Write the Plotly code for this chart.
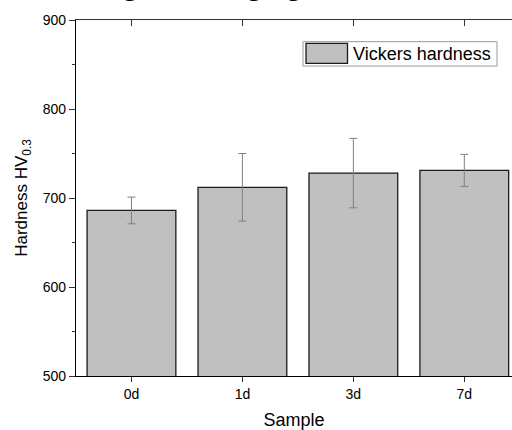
import plotly.graph_objects as go

categories = ["0d", "1d", "3d", "7d"]
hardness = [686, 712, 728, 731]
hardness_err = [15, 38, 39, 18]
y_ticks = [500, 600, 700, 800, 900]

FONT = "Liberation Sans, Arial, sans-serif"
W, H = 512, 430
ML, MR, MT, MB = 76, 0, 20, 54
PW, PH = W - ML - MR, H - MT - MB

def px(x):
    return (x - ML) / PW

def py(y):
    return (H - MB - y) / PH

fig = go.Figure()
fig.add_trace(go.Bar(
    x=categories, y=hardness, width=0.8,
    marker=dict(color="#C0C0C0", line=dict(color="#1a1a1a", width=1.3)),
    error_y=dict(type="data", array=hardness_err, color="#808080", thickness=1, width=4),
    showlegend=False, name="Vickers hardness",
))
# invisible trace for top axis
fig.add_trace(go.Scatter(x=categories, y=hardness, xaxis="x2", mode="markers",
                         marker=dict(opacity=0), showlegend=False, hoverinfo="skip"))

fig.update_layout(
    width=W, height=H,
    margin=dict(l=ML, r=MR, t=MT, b=MB),
    paper_bgcolor="white", plot_bgcolor="white",
    font=dict(family=FONT, size=14, color="black"),
    xaxis=dict(
        type="category", range=[-0.5, 3.43],
        showline=True, linecolor="black", linewidth=1.3,
        ticks="outside", ticklen=5, tickwidth=1.3, tickcolor="#333",
        showgrid=False, zeroline=False,
        title=dict(text="Sample", font=dict(size=18), standoff=13),
        tickfont=dict(size=14),
    ),
    xaxis2=dict(
        type="category", range=[-0.5, 3.43], overlaying="x", side="top",
        showline=True, linecolor="#333", linewidth=1.3,
        ticks="inside", ticklen=6, tickwidth=1.3, tickcolor="#333",
        showticklabels=False, showgrid=False, zeroline=False,
    ),
    yaxis=dict(
        range=[500, 900], tickvals=y_ticks,
        showline=True, linecolor="black", linewidth=1.3,
        ticks="outside", ticklen=6, tickwidth=1.3, tickcolor="#333",
        minor=dict(ticks="outside", ticklen=3, dtick=50, tickwidth=1.3, tickcolor="#333", showgrid=False),
        showgrid=False, zeroline=False,
        title=dict(text="Hardness HV<sub>0.3</sub>", font=dict(size=17), standoff=10),
        tickfont=dict(size=14),
    ),
    bargap=0.2,
)

# legend box drawn manually
fig.add_shape(type="rect", xref="paper", yref="paper",
              x0=px(303), x1=px(497), y0=py(66), y1=py(41.7),
              line=dict(color="#999999", width=1), fillcolor="white", layer="above")
fig.add_shape(type="rect", xref="paper", yref="paper",
              x0=px(306), x1=px(347.5), y0=py(63.3), y1=py(43.3),
              line=dict(color="#1a1a1a", width=1.3), fillcolor="#C0C0C0", layer="above")
fig.add_annotation(text="Vickers hardness", xref="paper", yref="paper",
                   x=px(351), y=py(54), xanchor="left", yanchor="middle",
                   showarrow=False, font=dict(size=18, family=FONT))

# cropped caption text at top
fig.add_annotation(text="hardening before aging [5]", xref="paper", yref="paper",
                   x=px(12), y=py(3.3), xanchor="left", yanchor="bottom",
                   showarrow=False, font=dict(size=31, family="Liberation Serif, Times New Roman, serif"))

fig.write_html("out.html",
               config={"displayModeBar": False},
               post_script="document.body.style.margin='0';document.body.style.overflow='hidden';")
